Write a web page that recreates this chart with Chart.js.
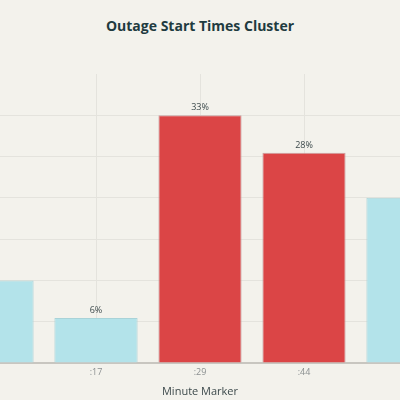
<!DOCTYPE html>
<html>
<head>
<script src="https://cdn.jsdelivr.net/npm/chart.js@4"></script>
<style>
  body { margin: 0; background: #f3f2ec; overflow: hidden; }
  #wrap { position: absolute; left: -60px; top: 0; width: 520px; height: 400px; }
  #title { position: absolute; left: 0; top: 16px; width: 400px; text-align: center;
           font: bold 14px "Open Sans", sans-serif; color: #1f3b40; }
</style>
</head>
<body>
<div id="title">Outage Start Times Cluster</div>
<div id="wrap"><canvas id="chart"></canvas></div>
<script>
const minutes = [':02', ':17', ':29', ':44', ':59'];
const shares = [11, 6, 33, 28, 22];
const peak = [false, false, true, true, false];

// labels only for bars fully inside the view
const valueLabels = {
  id: 'valueLabels',
  afterDatasetsDraw(chart) {
    const { ctx } = chart;
    ctx.save();
    ctx.font = '9px "Open Sans", sans-serif';
    ctx.fillStyle = '#3d4a4c';
    ctx.textAlign = 'center';
    ctx.textBaseline = 'bottom';
    chart.getDatasetMeta(0).data.forEach((bar, i) => {
      if (bar.x < 90 || bar.x > 430) return;
      ctx.fillText(shares[i] + '%', bar.x, bar.y - 3);
    });
    ctx.restore();
  }
};

new Chart(document.getElementById('chart'), {
  type: 'bar',
  data: {
    labels: minutes,
    datasets: [{
      data: shares,
      backgroundColor: peak.map(p => p ? '#db4546' : '#b3e3ea'),
      borderColor: peak.map(p => p ? '#c9a0a0' : '#a9d3d8'),
      borderWidth: 1,
      categoryPercentage: 0.8,
      barPercentage: 1
    }]
  },
  options: {
    responsive: true,
    maintainAspectRatio: false,
    animation: false,
    layout: { padding: { top: 74, bottom: 0 } },
    plugins: { legend: { display: false }, tooltip: { enabled: false } },
    scales: {
      x: {
        grid: { offset: false, color: '#e4e3dd', tickLength: 0 },
        border: { color: '#c8c6c0', width: 2 },
        ticks: { color: '#8a8f90', font: { size: 9, family: 'Open Sans' }, padding: 4 },
        title: { display: true, text: 'Minute Marker', color: '#3d4a4c',
                 font: { size: 11, family: 'Open Sans' }, padding: { top: 3, bottom: 2 } }
      },
      y: {
        min: 0, max: 38.5,
        ticks: { display: false, stepSize: 5.5 },
        grid: { color: c => c.tick.value >= 38.5 ? 'rgba(0,0,0,0)' : '#e4e3dd', drawTicks: false },
        border: { display: false }
      }
    }
  },
  plugins: [valueLabels]
});
</script>
</body>
</html>
